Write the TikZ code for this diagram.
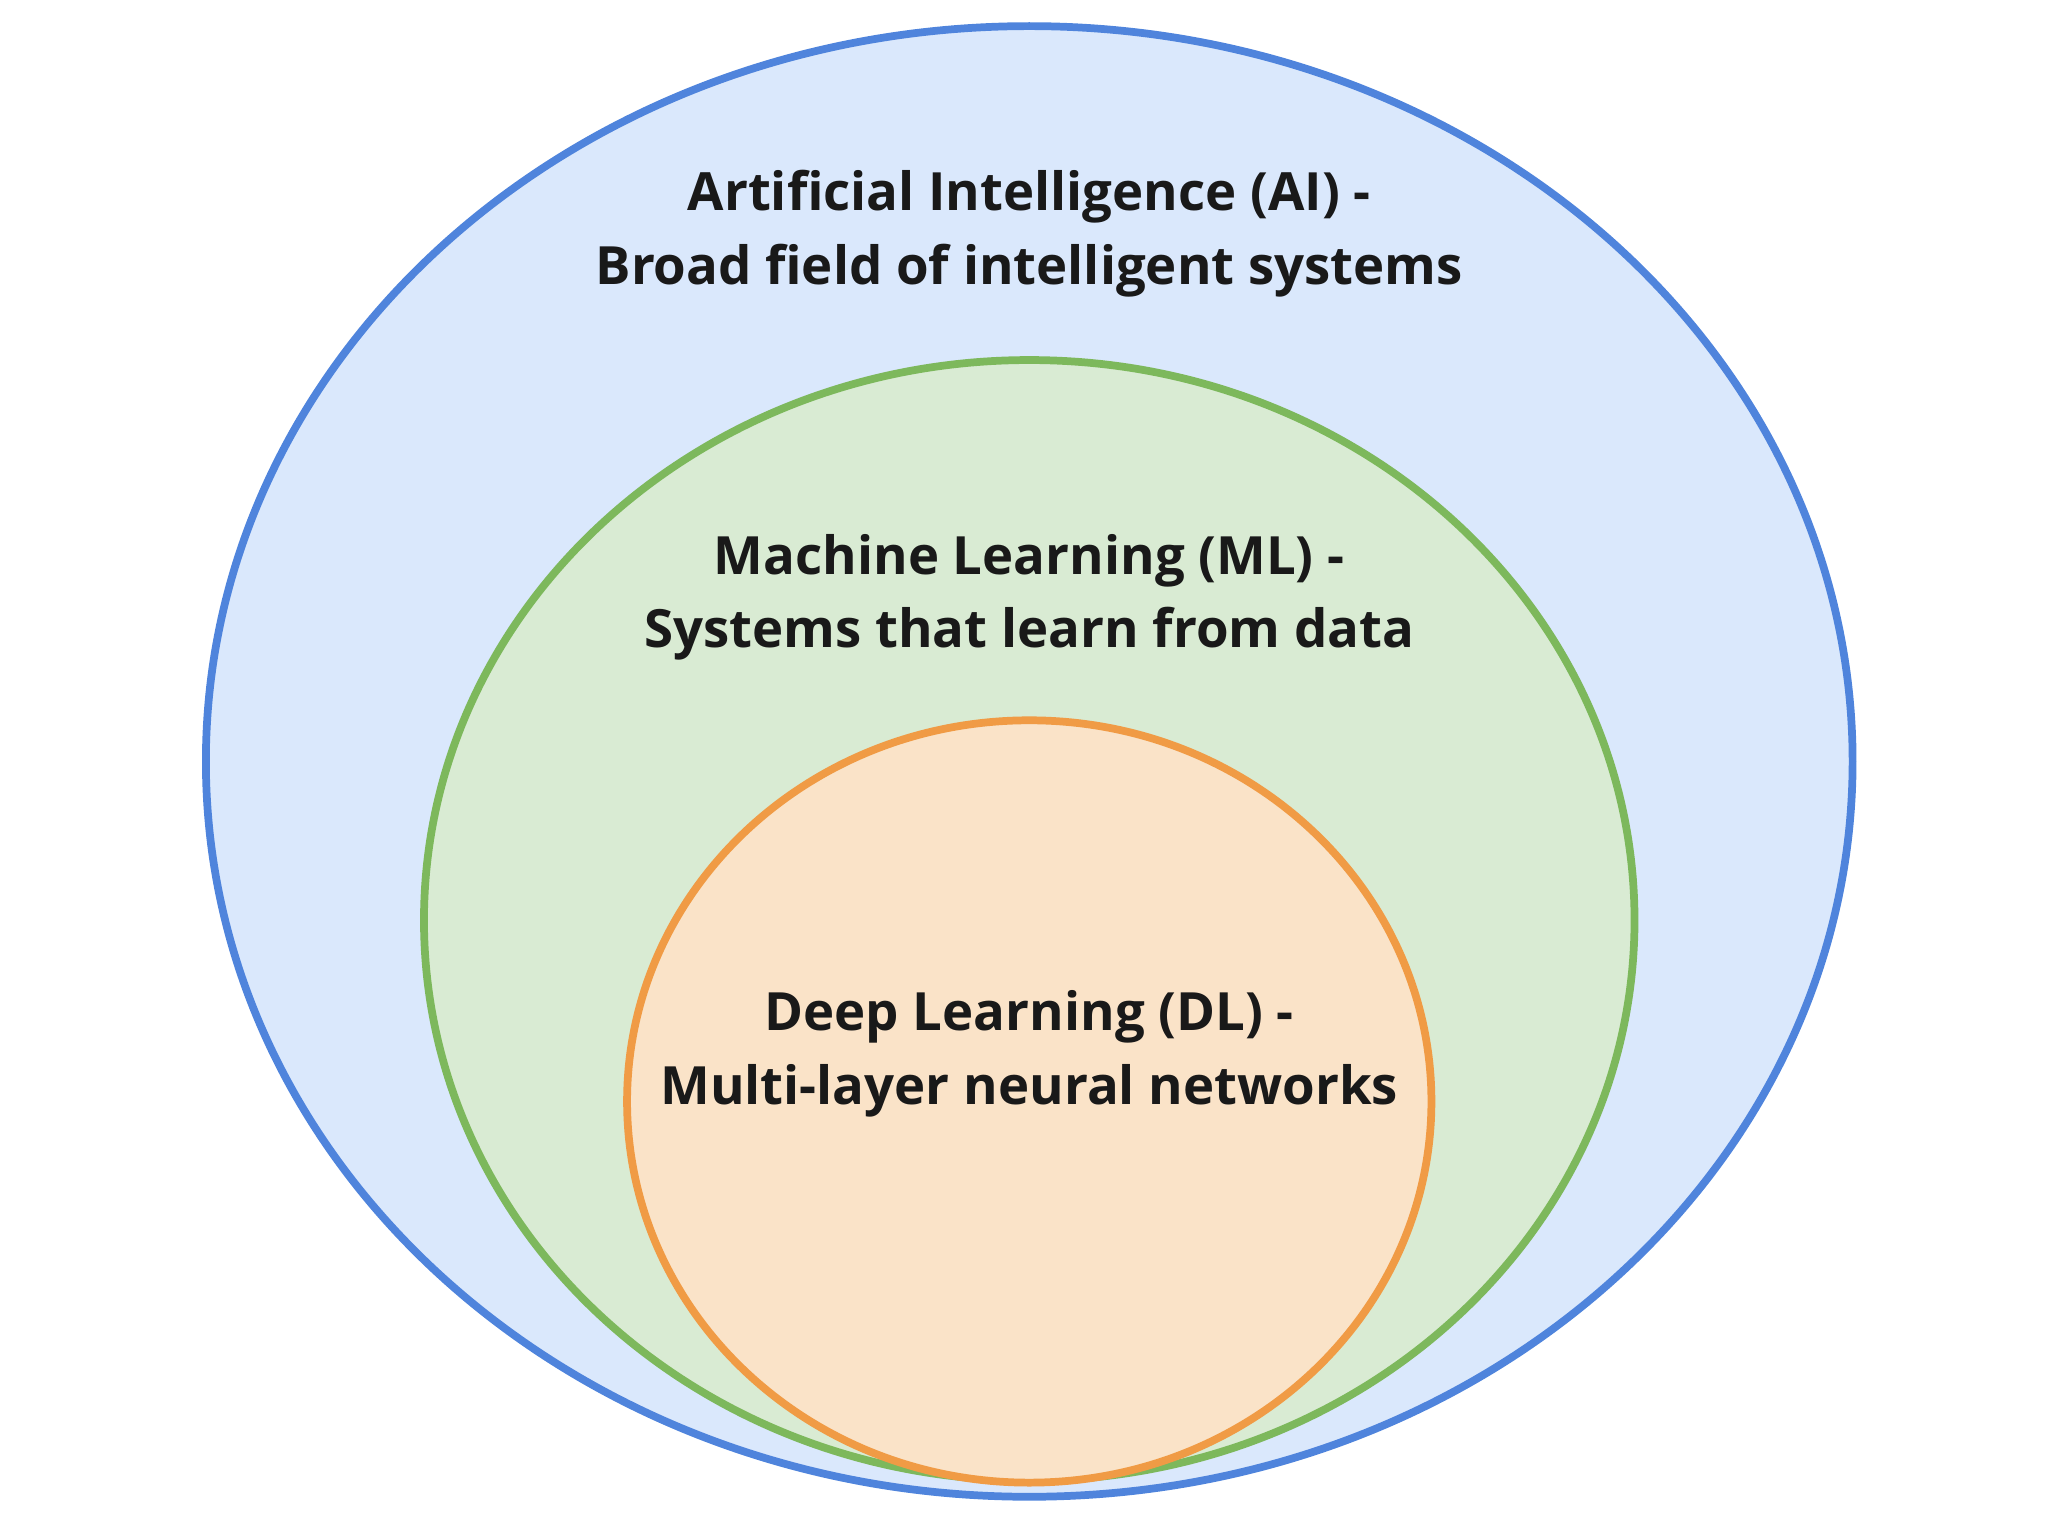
\documentclass[tikz,border=0pt]{standalone}
\usepackage{fontspec}
\setmainfont{Open Sans}
\usetikzlibrary{shapes.geometric}
\definecolor{aifill}{HTML}{DAE8FC}
\definecolor{ailine}{HTML}{4F84DC}
\definecolor{mlfill}{HTML}{D9EBD3}
\definecolor{mlline}{HTML}{7DB85C}
\definecolor{dlfill}{HTML}{FAE3C8}
\definecolor{dlline}{HTML}{F09B45}
\tikzset{
  set/.style={ellipse, draw, line width=2.2pt, inner sep=0pt},
  lbl/.style={align=center, font=\fontsize{15}{21}\selectfont\bfseries, text=black!90}
}
\begin{document}
\begin{tikzpicture}[x=0.013128cm, y=-0.013128cm]
        \useasboundingbox (0,0) rectangle (1560,1170);
        \node [set, fill=aifill, draw=ailine, minimum width=16.46cm, minimum height=14.70cm] (ai) at (784,580) {};
        \node [set, fill=mlfill, draw=mlline, minimum width=12.10cm, minimum height=11.20cm] (ml) at (784,701) {};
        \node [set, fill=dlfill, draw=dlline, minimum width=8.04cm, minimum height=7.62cm] (dl) at (784,839) {};

        \node [lbl] (ailbl) at (784,178) {Artificial Intelligence (AI) -\\Broad field of intelligent systems};
        \node [lbl] (mllbl) at (784,455) {Machine Learning (ML) -\\Systems that learn from data};
        \node [lbl] (dllbl) at (784,803) {Deep Learning (DL) -\\Multi-layer neural networks};
\end{tikzpicture}
\end{document}
